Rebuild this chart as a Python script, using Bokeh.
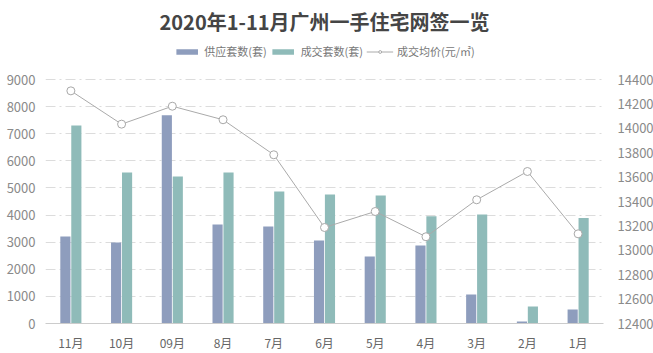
from bokeh.plotting import figure
from bokeh.models import (ColumnDataSource, Range1d, LinearAxis, FixedTicker,
                          Legend, LegendItem, FactorRange)
from bokeh.transform import dodge
from bokeh.embed import file_html
from bokeh.resources import INLINE

months = ["11月", "10月", "09月", "8月", "7月", "6月", "5月", "4月", "3月", "2月", "1月"]
supply = [3210, 2990, 7680, 3650, 3580, 3060, 2470, 2880, 1070, 75, 520]
deals = [7300, 5570, 5420, 5570, 4870, 4760, 4720, 3960, 4020, 630, 3890]
price = [14307, 14034, 14181, 14070, 13783, 13187, 13318, 13111, 13414, 13646, 13135]
left_ticks = [0, 1000, 2000, 3000, 4000, 5000, 6000, 7000, 8000, 9000]
right_ticks = [12400, 12600, 12800, 13000, 13200, 13400, 13600, 13800, 14000, 14200, 14400]

FONT = "Noto Sans CJK SC"

# frame extends above the 9000 line to leave room for the legend inside it
FRAME_H = 285
AXIS_H = 244
left_end = 9000 * FRAME_H / AXIS_H
right_end = 12400 + 2000 * FRAME_H / AXIS_H

src = ColumnDataSource(dict(m=months, s=supply, d=deals, p=price))

p = figure(frame_width=558, frame_height=FRAME_H,
           x_range=FactorRange(factors=months, range_padding=0),
           y_range=Range1d(0, left_end), output_backend="svg", toolbar_location=None,
           min_border_left=45, min_border_right=50, min_border_bottom=30, min_border_top=38)

p.title.text = "2020年1-11月广州一手住宅网签一览"
p.title.align = "center"
p.title.text_font = FONT
p.title.text_font_size = "20px"
p.title.text_font_style = "bold"
p.title.text_color = "#454545"
p.title.standoff = 6

p.extra_y_ranges = {"price": Range1d(12400, right_end)}

r1 = p.vbar(x=dodge("m", -0.108, range=p.x_range), top="s", width=0.2, source=src,
            fill_color="#8e9dbd", line_color=None)
r2 = p.vbar(x=dodge("m", 0.108, range=p.x_range), top="d", width=0.2, source=src,
            fill_color="#8fbbb9", line_color=None)
r3 = p.line(x="m", y="p", source=src, y_range_name="price", line_color="#aaaaaa", line_width=1)
r4 = p.scatter(x="m", y="p", source=src, y_range_name="price", size=8, marker="circle",
               fill_color="white", line_color="#a8a8a8", line_width=1)

# left axis
ya = p.yaxis[0]
ya.ticker = FixedTicker(ticks=left_ticks)
ya.axis_line_color = None
ya.major_tick_line_color = None
ya.minor_tick_line_color = None
ya.major_label_text_color = "#8a8a8a"
ya.major_label_text_font = FONT
ya.major_label_text_font_size = "13px"
ya.major_label_standoff = 4

# right axis
ra = LinearAxis(y_range_name="price", ticker=FixedTicker(ticks=right_ticks))
ra.axis_line_color = None
ra.major_tick_line_color = None
ra.minor_tick_line_color = None
ra.major_label_text_color = "#8a8a8a"
ra.major_label_text_font = FONT
ra.major_label_text_font_size = "13px"
ra.major_label_standoff = 8
p.add_layout(ra, "right")

# bottom axis
xa = p.xaxis[0]
xa.axis_line_color = "#cccccc"
xa.major_tick_line_color = None
xa.minor_tick_line_color = None
xa.major_label_text_color = "#666666"
xa.major_label_text_font = FONT
xa.major_label_text_font_size = "12px"
xa.major_label_standoff = 4

p.xgrid.grid_line_color = None
p.ygrid.grid_line_color = "#dcdcdc"
p.ygrid.grid_line_dash = "10 4 2 4"
p.ygrid.grid_line_width = 1
p.outline_line_color = None

legend = Legend(items=[LegendItem(label="供应套数(套)", renderers=[r1]),
                       LegendItem(label="成交套数(套)", renderers=[r2]),
                       LegendItem(label="成交均价(元/㎡)", renderers=[r3, r4])],
                orientation="horizontal", location="top_center",
                label_text_font=FONT, label_text_font_size="11px", label_text_color="#777777",
                glyph_width=27, glyph_height=7, label_standoff=4, spacing=3,
                padding=2, margin=5, border_line_color=None, background_fill_alpha=0)
p.add_layout(legend)

open("out.html", "w").write(file_html(p, INLINE))
